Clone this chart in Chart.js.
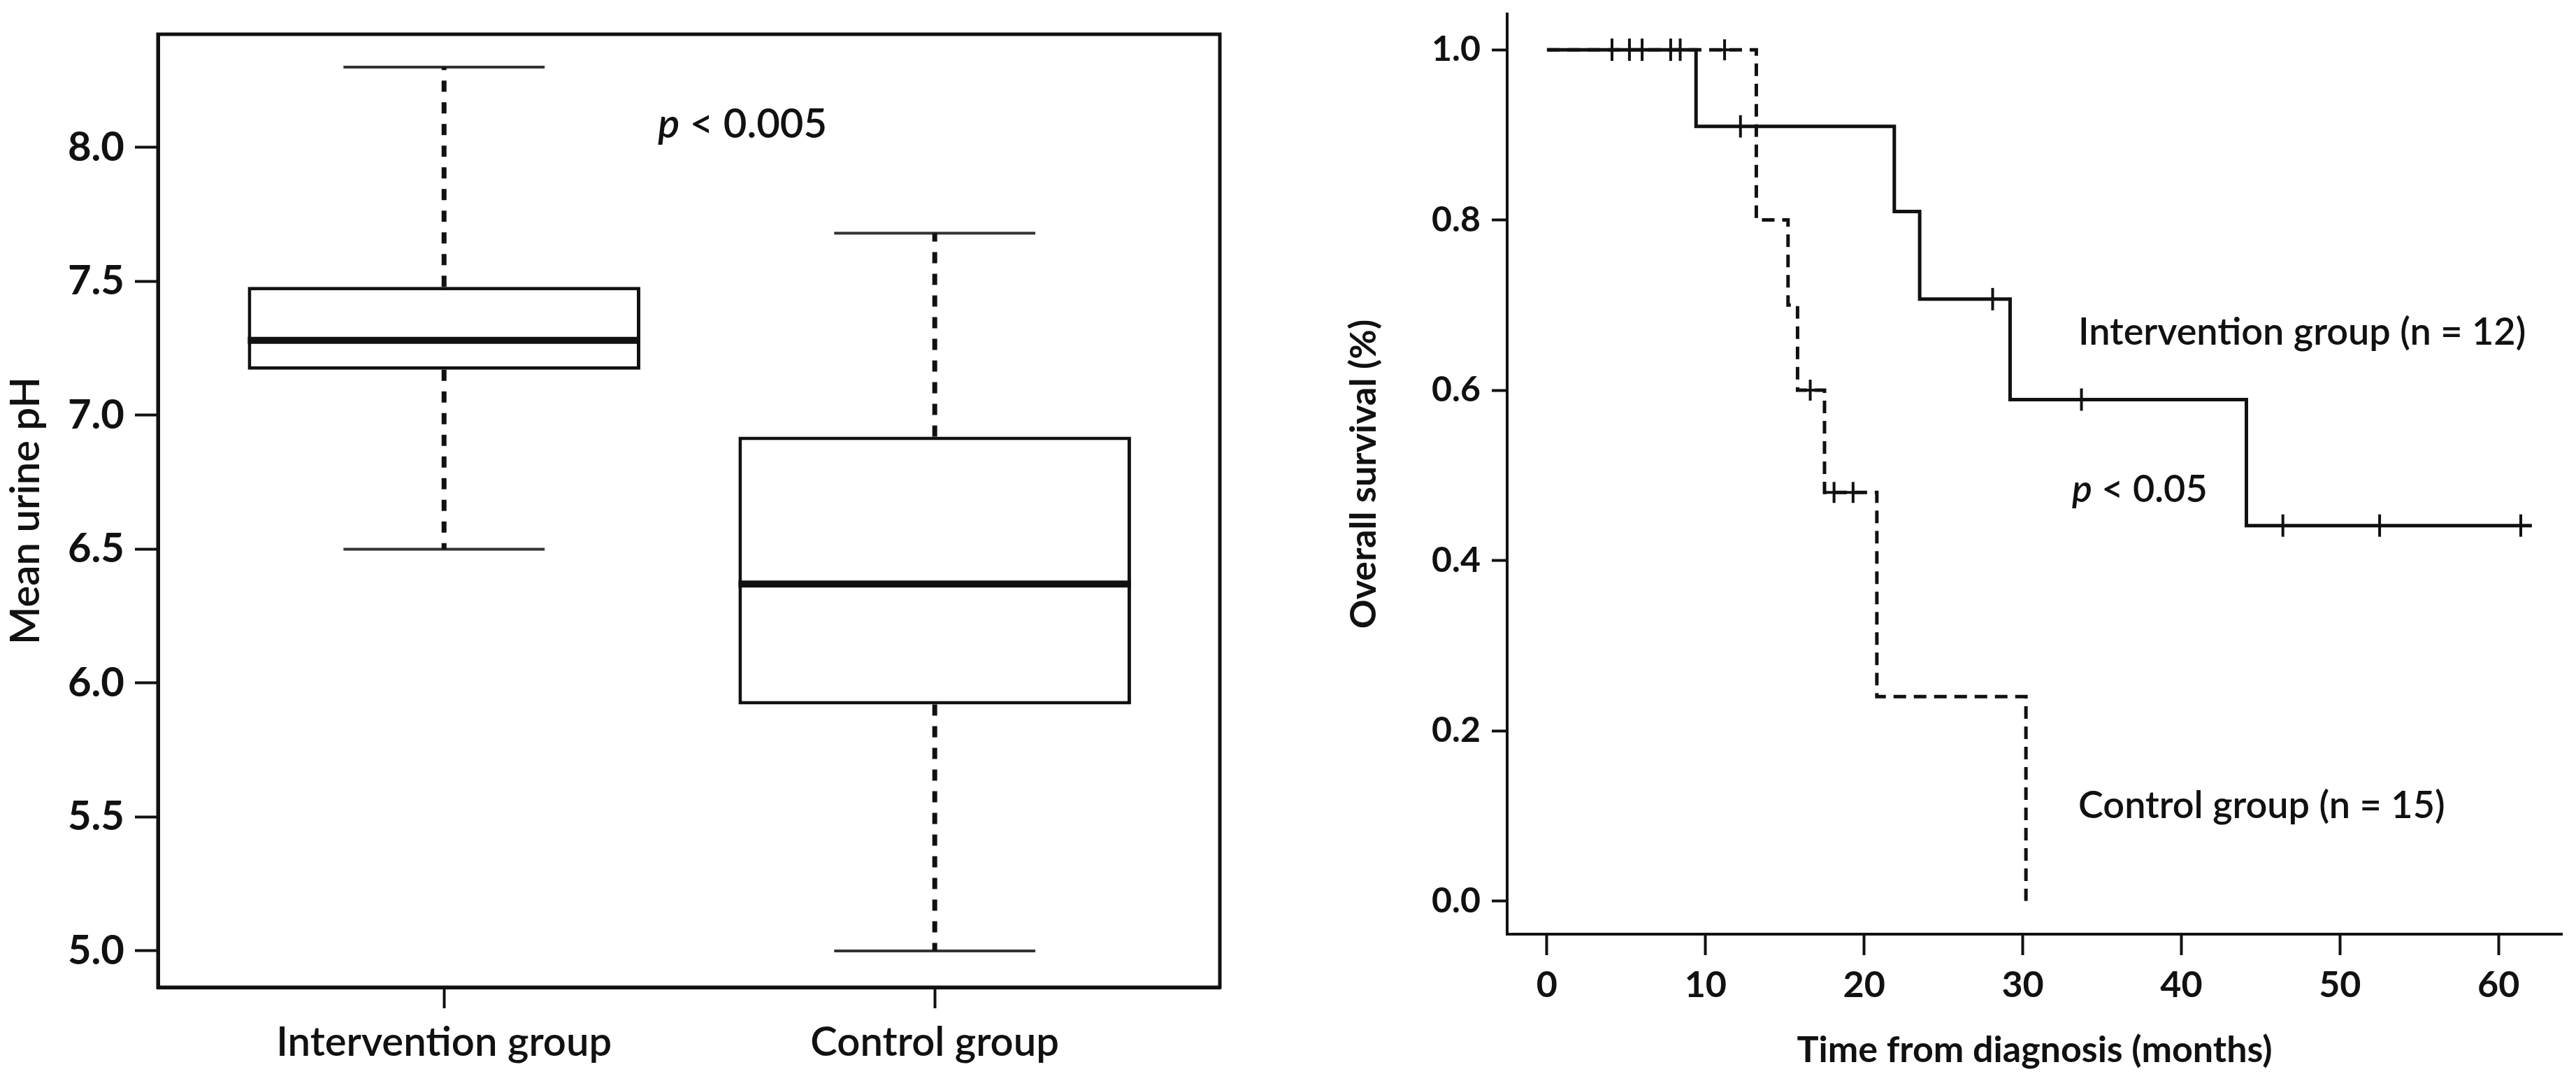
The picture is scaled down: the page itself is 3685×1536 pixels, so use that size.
<!DOCTYPE html>
<html>
<head>
<meta charset="utf-8">
<script src="https://cdn.jsdelivr.net/npm/chart.js@4.4.1/dist/chart.umd.min.js"></script>
<style>
  html, body { margin: 0; padding: 0; background: #fff; }
  canvas { position: absolute; top: 0; }
  #boxChart { left: 0; }
  #kmChart { left: 1845px; }
</style>
</head>
<body>
<canvas id="boxChart" width="1845" height="1536"></canvas>
<canvas id="kmChart" width="1840" height="1536"></canvas>
<script>
// left panel: mean urine pH per group (box plot)
const groups = ['Intervention group', 'Control group'];
const phMin = [6.50, 5.00];
const phQ1 = [7.17, 5.92];
const phMedian = [7.28, 6.37];
const phQ3 = [7.48, 6.92];
const phMax = [8.30, 7.68];
const phTicks = [5.0, 5.5, 6.0, 6.5, 7.0, 7.5, 8.0];

// right panel: Kaplan-Meier overall survival
const ivTimes = [0, 9.4, 21.9, 23.5, 29.2, 44.1, 62.1];
const ivSurv = [1.0, 0.91, 0.81, 0.707, 0.589, 0.441, 0.441];
const ivCensor = [4.1, 5.2, 6.0, 7.8, 8.4, 12.2, 28.1, 33.7, 46.4, 52.5, 61.4];
const ctTimes = [0, 13.2, 15.2, 15.8, 17.5, 20.8, 30.2];
const ctSurv = [1.0, 0.80, 0.70, 0.60, 0.48, 0.24, 0.0];
const ctCensor = [11.2, 16.6, 18.1, 19.3];
const monthTicks = [0, 10, 20, 30, 40, 50, 60];
const survTicks = [0.0, 0.2, 0.4, 0.6, 0.8, 1.0];

const INK = '#111';
const FONT = 'Lato, "Open Sans", sans-serif';
const BOX_W = 0.8;   // box width, fraction of group spacing
const CAP_W = 0.41;  // whisker cap width

Chart.defaults.color = INK;
Chart.defaults.font.family = FONT;

// step value of a survival curve at time t
function survAt(times, surv, t) {
    let v = surv[0];
    times.forEach((tt, i) => { if (tt <= t) v = surv[i]; });
    return v;
}

// text notes placed in data coordinates
const notesPlugin = {
    id: 'notes',
    afterDatasetsDraw(chart, args, opts) {
        const { ctx, scales: { x, y } } = chart;
        ctx.save();
        ctx.fillStyle = INK;
        ctx.textBaseline = 'middle';
        ctx.textAlign = 'left';
        opts.items.forEach(n => {
            let px = x.getPixelForValue(n.x);
            const py = y.getPixelForValue(n.y);
            if (n.italic) {
                ctx.font = `italic ${opts.weight} ${opts.size}px ${FONT}`;
                ctx.fillText(n.italic, px, py);
                px += ctx.measureText(n.italic).width;
            }
            ctx.font = `${opts.weight} ${opts.size}px ${FONT}`;
            ctx.fillText(n.text, px, py);
        });
        ctx.restore();
    }
};

const framePlugin = {
    id: 'frame',
    afterDraw(chart) {
        const { ctx, chartArea: a } = chart;
        ctx.save();
        ctx.strokeStyle = INK;
        ctx.lineWidth = 5;
        ctx.strokeRect(a.left, a.top, a.right - a.left, a.bottom - a.top);
        ctx.restore();
    }
};

function lineSet(data, extra) {
    return Object.assign({
        type: 'line', data: data, borderColor: INK, borderWidth: 5,
        pointRadius: 0, fill: false, tension: 0, spanGaps: false, order: 1
    }, extra);
}

function drawBoxChart() {
    const sets = [{
        type: 'bar',
        data: groups.map((g, i) => ({ x: i, y: [phQ1[i], phQ3[i]] })),
        backgroundColor: '#fff',
        borderColor: INK,
        borderWidth: 5,
        borderSkipped: false,
        barPercentage: BOX_W,
        categoryPercentage: 1,
        order: 2
    }];
    groups.forEach((g, i) => {
        sets.push(lineSet([
            { x: i, y: phQ3[i] }, { x: i, y: phMax[i] }, { x: i, y: null },
            { x: i, y: phQ1[i] }, { x: i, y: phMin[i] }
        ], { borderWidth: 7, borderDash: [16, 15] }));
        sets.push(lineSet([
            { x: i - CAP_W / 2, y: phMax[i] }, { x: i + CAP_W / 2, y: phMax[i] }, { x: i, y: null },
            { x: i - CAP_W / 2, y: phMin[i] }, { x: i + CAP_W / 2, y: phMin[i] }
        ], { borderWidth: 4, borderColor: '#333' }));
        sets.push(lineSet([
            { x: i - BOX_W / 2, y: phMedian[i] }, { x: i + BOX_W / 2, y: phMedian[i] }
        ], { borderWidth: 10 }));
    });

    new Chart(document.getElementById('boxChart'), {
        type: 'bar',
        data: { datasets: sets },
        plugins: [framePlugin, notesPlugin],
        options: {
            responsive: false,
            animation: false,
            devicePixelRatio: 1,
            layout: { padding: { left: 0, top: 49, right: 100, bottom: 0 } },
            plugins: {
                legend: { display: false },
                tooltip: { enabled: false },
                notes: { size: 58, weight: 600, items: [{ italic: 'p', text: ' < 0.005', x: 0.436, y: 8.086 }] }
            },
            scales: {
                x: {
                    type: 'linear', offset: false, min: -0.583, max: 1.581,
                    afterBuildTicks: s => { s.ticks = groups.map((g, i) => ({ value: i })); },
                    afterFit: s => { s.height = 124; s.paddingLeft = 0; s.paddingRight = 0; },
                    ticks: { callback: v => groups[v], padding: 14, maxRotation: 0, font: { size: 58, weight: 600 } },
                    grid: { display: true, offset: false, drawOnChartArea: false, drawTicks: true, tickLength: 30, tickWidth: 4, tickColor: INK },
                    border: { display: true, color: INK, width: 5 }
                },
                y: {
                    min: 4.864, max: 8.423,
                    afterBuildTicks: s => { s.ticks = phTicks.map(v => ({ value: v })); },
                    afterFit: s => { s.width = 226; s.paddingTop = 0; s.paddingBottom = 0; },
                    ticks: { callback: v => v.toFixed(1), padding: 15, font: { size: 58, weight: 'bold' } },
                    grid: { display: true, drawOnChartArea: false, drawTicks: true, tickLength: 33, tickWidth: 4, tickColor: INK },
                    border: { display: true, color: INK, width: 5 },
                    title: { display: true, text: 'Mean urine pH', padding: { top: 2, bottom: 0 }, font: { size: 58, weight: 600 } }
                }
            }
        }
    });
}

function drawKmChart() {
    const ivLine = ivTimes.map((t, i) => ({ x: t, y: ivSurv[i] }));
    const ctLine = ctTimes.map((t, i) => ({ x: t, y: ctSurv[i] }));
    const ivMarks = ivCensor.map(t => ({ x: t, y: survAt(ivTimes, ivSurv, t) }));
    const ctMarks = ctCensor.map(t => ({ x: t, y: survAt(ctTimes, ctSurv, t) }));

    new Chart(document.getElementById('kmChart'), {
        type: 'line',
        data: {
            datasets: [
                { label: 'Intervention group', data: ivLine, stepped: 'before', borderColor: INK, borderWidth: 5, pointRadius: 0, fill: false },
                { label: 'Control group', data: ctLine, stepped: 'before', borderColor: INK, borderWidth: 5, borderDash: [18, 11], pointRadius: 0, fill: false },
                { label: 'Intervention censored', data: ivMarks, showLine: false, pointStyle: 'line', rotation: 90, pointRadius: 16, borderColor: INK, borderWidth: 4 },
                { label: 'Control censored', data: ctMarks, showLine: false, pointStyle: 'cross', pointRadius: 15, borderColor: INK, borderWidth: 4 }
            ]
        },
        plugins: [notesPlugin],
        options: {
            responsive: false,
            animation: false,
            devicePixelRatio: 1,
            layout: { padding: { left: 0, top: 15, right: 19, bottom: 0 } },
            plugins: {
                legend: { display: false },
                tooltip: { enabled: false },
                notes: {
                    size: 54, weight: 600,
                    items: [
                        { text: 'Intervention group (n = 12)', x: 33.5, y: 0.668 },
                        { italic: 'p', text: ' < 0.05', x: 33.1, y: 0.483 },
                        { text: 'Control group (n = 15)', x: 33.5, y: 0.112 }
                    ]
                }
            },
            scales: {
                x: {
                    type: 'linear', min: -2.51, max: 64.0,
                    afterBuildTicks: s => { s.ticks = monthTicks.map(v => ({ value: v })); },
                    afterFit: s => { s.height = 200; s.paddingLeft = 0; s.paddingRight = 0; },
                    ticks: { padding: 12, maxRotation: 0, font: { size: 52, weight: 'bold' } },
                    grid: { display: true, drawOnChartArea: false, drawTicks: true, tickLength: 30, tickWidth: 4, tickColor: INK },
                    border: { display: true, color: INK, width: 4 },
                    title: { display: true, text: 'Time from diagnosis (months)', padding: { top: 0, bottom: 3 }, font: { size: 52, weight: 'bold' } }
                },
                y: {
                    min: -0.039, max: 1.042,
                    afterBuildTicks: s => { s.ticks = survTicks.map(v => ({ value: v })); },
                    afterFit: s => { s.width = 311; s.paddingTop = 0; s.paddingBottom = 0; },
                    ticks: { callback: v => v.toFixed(1), padding: 16, font: { size: 50, weight: 'bold' } },
                    grid: { display: true, drawOnChartArea: false, drawTicks: true, tickLength: 22, tickWidth: 4, tickColor: INK },
                    border: { display: true, color: INK, width: 4 },
                    title: { display: true, text: 'Overall survival (%)', padding: { top: 75, bottom: 0 }, font: { size: 52, weight: 'bold' } }
                }
            }
        }
    });
}

document.fonts.load('bold 58px Lato').then(() => {
    drawBoxChart();
    drawKmChart();
}, () => {
    drawBoxChart();
    drawKmChart();
});
</script>
</body>
</html>
